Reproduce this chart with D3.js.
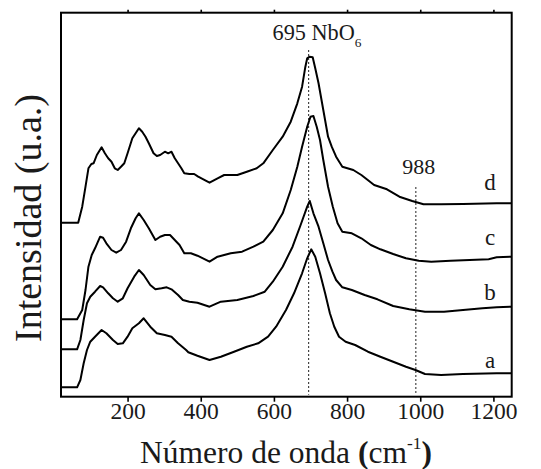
<!DOCTYPE html>
<html>
<head>
<meta charset="utf-8">
<script src="https://cdn.jsdelivr.net/npm/d3@7"></script>
<style>
  body { margin: 0; background: #fff; }
  svg { display: block; }
</style>
</head>
<body>
<svg id="chart" width="541" height="469"></svg>
<script>
// Raman spectra (offset for display), wavenumber in cm-1, intensity in arbitrary units
const waveA = [18, 62, 71, 80, 89, 98, 111, 129, 142, 160, 173, 187, 200, 213, 231, 244, 262, 280, 302, 320, 338, 360, 366, 391, 424, 455, 491, 526, 557, 584, 606, 633, 655, 677, 691, 702, 713, 726, 740, 753, 765, 778, 796, 822, 857, 891, 926, 961, 987, 1013, 1057, 1117, 1209, 1250];
const intA  = [9.4, 9.4, 16.7, 33.4, 46.7, 55, 60, 66.7, 63.4, 56.7, 52.7, 53.4, 60, 68.4, 73.4, 78.4, 70, 63.4, 61.7, 60, 53.4, 46.7, 44.5, 41, 36.7, 40, 45, 50, 53.4, 60, 70, 86.7, 103.4, 123.4, 138.4, 147.4, 140, 123.4, 103.4, 83.4, 70, 60, 55, 51.7, 45, 40, 35, 30, 26.7, 22.7, 21.7, 22.7, 23.4, 23.4];

const waveB = [18, 62, 71, 80, 89, 98, 111, 125, 133, 147, 160, 173, 187, 200, 218, 231, 244, 262, 276, 293, 307, 320, 338, 351, 369, 391, 424, 455, 500, 544, 575, 597, 624, 651, 673, 691, 698, 708, 722, 735, 748, 760, 770, 787, 813, 848, 883, 926, 970, 1013, 1065, 1117, 1170, 1209, 1250];
const intB  = [47.4, 47.4, 56.7, 76.7, 93.4, 100, 105, 110.7, 109.4, 103.4, 98.4, 95, 98.4, 108.4, 120, 126.7, 121.7, 111.7, 107.4, 108.4, 109.4, 107.4, 101.7, 96.7, 95, 94, 90, 95, 96.7, 100.7, 105, 115, 130, 150, 171.7, 190, 195.7, 183.4, 170, 153.4, 136.7, 125, 116.7, 109.4, 106.7, 101.7, 97.4, 90.7, 87.4, 85, 85, 86.7, 88.4, 89.4, 90];

const waveC = [18, 62, 76, 85, 93, 102, 111, 125, 133, 142, 156, 169, 182, 196, 209, 222, 231, 244, 258, 276, 289, 302, 316, 329, 342, 355, 373, 391, 424, 446, 482, 513, 544, 571, 597, 624, 646, 664, 677, 691, 700, 708, 717, 726, 735, 748, 761, 774, 787, 813, 839, 865, 891, 926, 961, 996, 1030, 1083, 1135, 1187, 1209, 1250];
const intC  = [77.4, 77.4, 86.7, 106.7, 130, 141.7, 148.4, 160, 159, 153.4, 146.7, 144, 146.7, 155, 168.4, 178.4, 183.4, 176.7, 168.4, 156.7, 160, 161.7, 161.7, 156.7, 151.7, 143.4, 143.4, 141, 135, 140, 143.4, 145, 150, 155, 166.7, 183.4, 206.7, 230, 250, 270, 280, 280.7, 270, 256.7, 236.7, 210, 190, 173.4, 165, 163.4, 158.4, 151.7, 147.4, 142.7, 138.4, 136, 135, 136, 136.7, 137.4, 139.4, 140];

const waveD = [18, 65, 76, 85, 93, 101, 107, 116, 129, 138, 147, 156, 165, 173, 182, 191, 200, 213, 222, 231, 240, 249, 258, 271, 280, 289, 302, 311, 320, 329, 338, 347, 355, 369, 382, 393, 424, 446, 464, 500, 526, 553, 571, 597, 624, 646, 664, 677, 686, 691, 697, 706, 713, 722, 735, 748, 758, 770, 787, 817, 839, 874, 909, 943, 978, 1009, 1057, 1117, 1209, 1250];
const intD  = [174, 174, 190, 210, 228.4, 232.7, 233.4, 241.7, 249.4, 243.4, 238.4, 235, 228.4, 226.7, 230, 233.4, 243.4, 258.4, 263.4, 268.4, 265, 260, 253.4, 243.4, 240.7, 241.7, 245, 243.4, 245, 238.4, 233.4, 228.4, 223.4, 222.7, 222.7, 220, 214, 218.4, 221.7, 221.7, 225, 228.4, 233.4, 246.7, 260, 275, 293.4, 310, 330, 338.4, 340, 339.4, 328.4, 313.4, 286.7, 260, 250, 240, 230, 226.7, 221.7, 211.7, 207.4, 200, 195.7, 192.4, 192.4, 192.7, 193.4, 193.4];

const sampleNames = ["a", "b", "c", "d"];
const sampleLabelY = [28.4, 96.7, 151.7, 206.7]; // label baseline, intensity units
const xTicks = [200, 400, 600, 800, 1000, 1200];
const bandNbO6 = 695;
const band988 = 988;

const FONT = "Liberation Serif";

const spectra = [
  { name: sampleNames[0], wave: waveA, inten: intA },
  { name: sampleNames[1], wave: waveB, inten: intB },
  { name: sampleNames[2], wave: waveC, inten: intC },
  { name: sampleNames[3], wave: waveD, inten: intD }
];

const svg = d3.select("#chart");
const plotL = 61, plotR = 511.7, plotT = 12.7, plotB = 396.7;

const x = d3.scaleLinear().domain([18, 1250]).range([plotL, plotR]);
const y = d3.scaleLinear().domain([0, 384]).range([plotB, plotT]);

// scale a text element's font so its rendered length equals the given width
function fitWidth(sel, width) {
  const node = sel.node();
  const fs = parseFloat(sel.attr("font-size"));
  const len = node.getComputedTextLength();
  if (len > 0) sel.attr("font-size", (fs * width / len).toFixed(2));
  return sel;
}

svg.append("defs").append("clipPath").attr("id", "plotClip")
  .append("rect").attr("x", plotL).attr("y", plotT)
  .attr("width", plotR - plotL).attr("height", plotB - plotT);

// reference band markers
svg.append("line")
  .attr("x1", x(bandNbO6)).attr("x2", x(bandNbO6))
  .attr("y1", 50).attr("y2", plotB - 2)
  .attr("stroke", "#222").attr("stroke-width", 1)
  .attr("stroke-dasharray", "2,2");
svg.append("line")
  .attr("x1", x(band988)).attr("x2", x(band988))
  .attr("y1", 187).attr("y2", plotB - 2)
  .attr("stroke", "#222").attr("stroke-width", 1)
  .attr("stroke-dasharray", "2,2");

// spectra
const line = d3.line()
  .x(d => x(d[0]))
  .y(d => y(d[1]))
  .curve(d3.curveLinear);

svg.append("g").attr("clip-path", "url(#plotClip)")
  .selectAll("path")
  .data(spectra)
  .join("path")
  .attr("d", s => line(s.wave.map((w, i) => [w, s.inten[i]])))
  .attr("fill", "none")
  .attr("stroke", "#000")
  .attr("stroke-width", 2)
  .attr("stroke-linejoin", "round");

// axes
const xAxis = d3.axisBottom(x).tickValues(xTicks).tickFormat(d3.format("d"))
  .tickSize(5).tickSizeOuter(0).tickPadding(3);
const gx = svg.append("g").attr("transform", `translate(0,${plotB})`).call(xAxis)
  .attr("font-family", FONT);
gx.select(".domain").remove();
gx.selectAll(".tick line").attr("stroke", "#000").attr("stroke-width", 1.6);
const tickTexts = gx.selectAll(".tick text")
  .attr("font-size", 20)
  .attr("font-family", FONT)
  .attr("fill", "#1a1a1a")
  .attr("dy", null)
  .attr("y", 22.3);
// size tick labels from the four-digit label width
{
  const probe = gx.selectAll(".tick text").filter(d => d === 1000);
  const fs = parseFloat(probe.attr("font-size"));
  const len = probe.node().getComputedTextLength();
  tickTexts.attr("font-size", (fs * 47 / len).toFixed(2));
}

const xTop = d3.axisTop(x).tickValues(xTicks).tickSize(3).tickSizeOuter(0).tickFormat("");
const gt = svg.append("g").attr("transform", `translate(0,${plotT})`).call(xTop);
gt.select(".domain").remove();
gt.selectAll(".tick line").attr("stroke", "#000").attr("stroke-width", 1.6);

// frame
svg.append("rect")
  .attr("x", plotL).attr("y", plotT)
  .attr("width", plotR - plotL).attr("height", plotB - plotT)
  .attr("fill", "none").attr("stroke", "#000").attr("stroke-width", 2);

// band labels
const nbLabel = svg.append("text")
  .attr("x", 272.5).attr("y", 39.5)
  .attr("font-family", FONT).attr("fill", "#1a1a1a")
  .attr("font-size", 18);
nbLabel.append("tspan").text(bandNbO6 + " NbO");
nbLabel.append("tspan").attr("font-size", 11).attr("dy", 7).text("6");
fitWidth(nbLabel, 89);
nbLabel.select("tspan:last-child").attr("font-size", (parseFloat(nbLabel.attr("font-size")) * 0.6).toFixed(2));

const l988 = svg.append("text")
  .attr("x", x(band988) + 3).attr("y", 173.5)
  .attr("text-anchor", "middle")
  .attr("font-family", FONT).attr("fill", "#1a1a1a")
  .attr("font-size", 21)
  .text(band988);
fitWidth(l988, 33);

// sample labels
svg.selectAll(".sample-label")
  .data(sampleNames)
  .join("text")
  .attr("class", "sample-label")
  .attr("x", 490)
  .attr("y", (d, i) => y(sampleLabelY[i]))
  .attr("text-anchor", "middle")
  .attr("font-family", FONT).attr("fill", "#1a1a1a")
  .attr("font-size", 23)
  .text(d => d);

// axis titles
const xt = svg.append("text")
  .attr("x", 286).attr("y", 463)
  .attr("text-anchor", "middle")
  .attr("font-family", FONT).attr("fill", "#1a1a1a")
  .attr("font-size", 31);
xt.append("tspan").text("Número de onda ");
xt.append("tspan").attr("font-weight", "bold").text("(");
xt.append("tspan").text("cm");
const sup = xt.append("tspan").attr("font-size", 17).attr("dy", -14).text("-1");
xt.append("tspan").attr("font-weight", "bold").attr("dy", 14).text(")");
fitWidth(xt, 292);
{
  const fs = parseFloat(xt.attr("font-size"));
  sup.attr("font-size", (fs * 0.55).toFixed(2)).attr("dy", -(fs * 0.45).toFixed(2));
  xt.select("tspan:last-child").attr("dy", (fs * 0.45).toFixed(2));
}

const yt = svg.append("text")
  .attr("transform", "translate(41,218) rotate(-90)")
  .attr("text-anchor", "middle")
  .attr("font-family", FONT).attr("fill", "#1a1a1a")
  .attr("font-size", 37)
  .text("Intensidad (u.a.)");
fitWidth(yt, 248);
</script>
</body>
</html>
